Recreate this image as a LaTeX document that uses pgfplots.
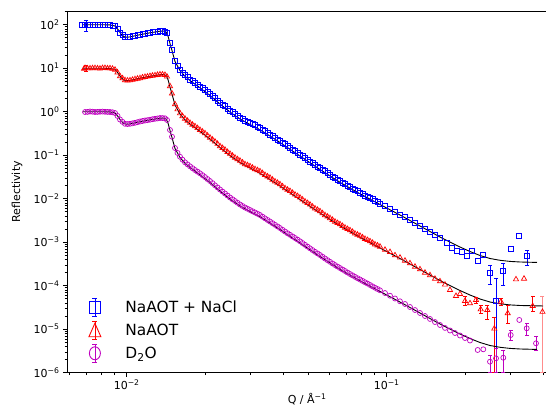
\documentclass[border=0pt]{standalone}
\usepackage{fontspec}
\setmainfont{DejaVu Sans}
\usepackage{pgfplots}
\pgfplotsset{compat=1.18}

\definecolor{mpblue}{rgb}{0,0,1}
\definecolor{mpred}{rgb}{1,0,0}
\definecolor{mpmag}{rgb}{0.75,0,0.75}

% reflectivity curves (offset x100, x10, x1)
\pgfplotstableread{
Q R
0.006733 97
0.006914 99.5
0.007227 100.5
0.007553 98
0.007894 101
0.008251 99
0.008624 98
0.009016 94
0.009424 66
0.009851 52.5
0.010297 53
0.010762 55
0.011249 59.5
0.011758 63
0.012290 65
0.012847 69
0.013428 71.5
0.014036 70
0.014289 64
0.014673 38
0.014935 26.5
0.015337 14.8
0.016032 9.2
0.016757 6.95
0.017516 5.5
0.018309 4.6
0.019138 3.82
0.020004 3.17
0.020910 2.53
0.021857 2.05
0.022846 1.61
0.023880 1.33
0.024962 1.06
0.026092 0.89
0.027273 0.73
0.028510 0.632
0.029801 0.545
0.031150 0.486
0.032560 0.419
0.034034 0.357
0.035575 0.297
0.037186 0.253
0.038871 0.210
0.040631 0.178
0.042470 0.147
0.044393 0.126
0.046403 0.104
0.048504 0.0878
0.050699 0.0718
0.052995 0.0607
0.055394 0.0503
0.057902 0.0426
0.060524 0.0351
0.063264 0.0301
0.066128 0.0252
0.069123 0.0220
0.072252 0.0184
0.075523 0.0161
0.078942 0.0137
0.082516 0.0119
0.086252 0.0102
0.090157 0.00895
0.094238 0.00772
0.098505 0.00678
0.10297 0.00581
0.10762 0.00508
0.11249 0.00432
0.11758 0.00382
0.12290 0.00320
0.12847 0.00275
0.13428 0.00233
0.14036 0.00201
0.14673 0.00169
0.15337 0.00146
0.16032 0.00123
0.17014 0.000944
0.17783 0.000724
0.18688 0.000628
0.19431 0.000605
0.20417 0.000482
0.21340 0.000628
0.22387 0.000370
0.23525 0.000508
0.24962 0.000199
0.2633 0.0000445
0.28085 0.000221
0.3007 0.000698
0.3228 0.00141
0.34737 0.000482
0.007069 99
0.007389 100
0.007722 99.5
0.008071 100.5
0.008436 98.5
0.008817 96.5
0.009218 80
0.009635 58.5
0.010071 52
0.010527 54
0.011003 57.5
0.011501 61
0.012021 64
0.012565 67
0.013135 70
0.013728 71.5
0.015680 11.3
0.016391 7.9
0.017132 6.2
0.017908 5.03
0.018719 4.19
0.019566 3.48
0.020452 2.83
0.021378 2.28
0.022346 1.82
0.023357 1.46
0.024414 1.185
0.025521 0.971
0.026676 0.807
0.027883 0.680
0.029148 0.588
0.030468 0.515
0.031847 0.451
0.033289 0.386
0.034796 0.325
0.036371 0.274
0.038018 0.231
0.039741 0.193
0.041540 0.161
0.043420 0.136
0.045386 0.115
0.047441 0.0956
0.049590 0.0794
0.051834 0.0660
0.054181 0.0553
0.056634 0.0463
0.059198 0.0387
0.061878 0.0325
0.064679 0.0276
0.067608 0.0236
0.070670 0.0201
0.073869 0.0173
0.077213 0.0149
0.080709 0.0129
0.084363 0.0112
0.088182 0.00967
0.092175 0.00840
}\nacldata

\pgfplotstableread{
Q R
0.006852 9.7
0.006914 10.1
0.007227 9.9
0.007553 10.05
0.007894 9.8
0.008251 10.1
0.008624 9.95
0.009016 9.2
0.009424 6.5
0.009851 5.3
0.010297 5.25
0.010762 5.6
0.011249 5.9
0.011758 6.3
0.012290 6.6
0.012847 6.85
0.013428 7.2
0.014036 7.0
0.014289 6.4
0.014673 3.85
0.014935 2.62
0.015337 1.48
0.016032 0.915
0.016757 0.69
0.017516 0.553
0.018309 0.462
0.019138 0.381
0.020004 0.318
0.020910 0.253
0.021857 0.205
0.022846 0.161
0.023880 0.133
0.024962 0.1075
0.026092 0.0878
0.027273 0.0745
0.028510 0.0621
0.029801 0.0556
0.031150 0.0478
0.032560 0.0426
0.034034 0.0351
0.035575 0.0302
0.037186 0.0249
0.038871 0.0214
0.040631 0.0174
0.042470 0.0150
0.044393 0.0124
0.046403 0.0106
0.048504 0.00862
0.050699 0.00731
0.052995 0.00596
0.055394 0.00513
0.057902 0.00418
0.060524 0.00357
0.063264 0.00296
0.066128 0.00258
0.069123 0.00216
0.072252 0.00188
0.075523 0.00158
0.078942 0.00140
0.082516 0.00119
0.086252 0.00105
0.090157 0.00089
0.094238 0.00079
0.098505 0.00067
0.10297 0.000595
0.10762 0.000500
0.11249 0.000442
0.11758 0.000376
0.12290 0.000327
0.12847 0.000273
0.13428 0.000238
0.14036 0.000199
0.14673 0.000174
0.15337 0.000144
0.16032 0.000126
0.16757 0.000106
0.17516 0.0000796
0.18471 0.0000580
0.19138 0.0000644
0.20004 0.0000445
0.20910 0.0000394
0.22051 0.0000469
0.22987 0.0000286
0.24374 0.0000276
0.25933 0.0000103
0.27516 0.0000428
0.29205 0.0000232
0.31429 0.000140
0.33742 0.000145
0.36438 0.0000341
0.39733 0.0000250
0.007069 9.9
0.007389 10.0
0.007722 9.9
0.008071 10.05
0.008436 9.9
0.008817 9.7
0.009218 8.0
0.009635 5.85
0.010071 5.2
0.010527 5.4
0.011003 5.75
0.011501 6.12
0.012021 6.4
0.012565 6.72
0.013135 7.0
0.013728 7.15
0.015680 1.13
0.016391 0.79
0.017132 0.617
0.017908 0.503
0.018719 0.419
0.019566 0.348
0.020452 0.283
0.021378 0.228
0.022346 0.182
0.023357 0.1464
0.024414 0.1185
0.025521 0.0971
0.026676 0.0807
0.027883 0.0680
0.029148 0.0588
0.030468 0.0515
0.031847 0.0451
0.033289 0.0386
0.034796 0.0325
0.036371 0.0274
0.038018 0.0231
0.039741 0.0193
0.041540 0.0161
0.043420 0.0136
0.045386 0.0115
0.047441 0.00956
0.049590 0.00794
0.051834 0.00660
0.054181 0.00553
0.056634 0.00463
0.059198 0.00387
0.061878 0.00325
0.064679 0.00276
0.067608 0.00236
0.070670 0.00201
0.073869 0.00173
0.077213 0.00149
0.080709 0.00129
0.084363 0.00112
0.088182 0.000967
0.092175 0.000840
}\naaotdata

\pgfplotstableread{
Q R
0.006914 0.984
0.007227 1.011
0.007553 0.984
0.007894 1.000
0.008251 0.995
0.008624 0.984
0.009016 0.933
0.009424 0.662
0.009851 0.527
0.010297 0.527
0.010762 0.556
0.011249 0.595
0.011758 0.628
0.012290 0.655
0.012847 0.687
0.013428 0.716
0.014036 0.705
0.014289 0.645
0.014673 0.380
0.014935 0.266
0.015337 0.1464
0.016032 0.0923
0.016757 0.0687
0.017516 0.0556
0.018309 0.0457
0.019138 0.0384
0.020004 0.0315
0.020910 0.0255
0.021857 0.0203
0.022846 0.01627
0.023880 0.01317
0.024962 0.01066
0.026092 0.00885
0.027273 0.00736
0.028510 0.00628
0.029801 0.00550
0.031150 0.00482
0.032560 0.00422
0.034034 0.00354
0.035575 0.00299
0.037186 0.00251
0.038871 0.00212
0.040631 0.00176
0.042470 0.00148
0.044393 0.00125
0.046403 0.00105
0.048504 0.000871
0.050699 0.000724
0.052995 0.000602
0.055394 0.000508
0.057902 0.000422
0.060524 0.000354
0.063264 0.000299
0.066128 0.000255
0.069123 0.000218
0.072252 0.000186
0.075523 0.000160
0.078942 0.000139
0.082516 0.000120
0.086252 0.000104
0.090157 0.0000899
0.094238 0.0000784
0.098505 0.0000679
0.10297 0.0000589
0.10762 0.0000508
0.11249 0.0000438
0.11758 0.0000380
0.12290 0.0000324
0.12847 0.0000276
0.13428 0.0000236
0.14036 0.0000201
0.14673 0.0000172
0.15337 0.0000146
0.16032 0.0000125
0.16757 0.0000107
0.17516 0.00000934
0.18309 0.00000818
0.19138 0.00000717
0.20004 0.00000628
0.20910 0.00000550
0.22387 0.00000333
0.23525 0.00000345
0.24962 0.00000179
0.2633 0.00000214
0.28085 0.00000221
0.29987 0.00000736
0.32359 0.0000163
0.34552 0.0000105
0.3752 0.00000474
0.007069 0.99
0.007389 1.0
0.007722 0.99
0.008071 1.005
0.008436 0.99
0.008817 0.97
0.009218 0.80
0.009635 0.585
0.010071 0.52
0.010527 0.54
0.011003 0.575
0.011501 0.612
0.012021 0.64
0.012565 0.672
0.013135 0.70
0.013728 0.715
0.015680 0.113
0.016391 0.079
0.017132 0.0617
0.017908 0.0503
0.018719 0.0419
0.019566 0.0348
0.020452 0.0283
0.021378 0.0228
0.022346 0.0182
0.023357 0.01464
0.024414 0.01185
0.025521 0.00971
0.026676 0.00807
0.027883 0.00680
0.029148 0.00588
0.030468 0.00515
0.031847 0.00451
0.033289 0.00386
0.034796 0.00325
0.036371 0.00274
0.038018 0.00231
0.039741 0.00193
0.041540 0.00161
0.043420 0.00136
0.045386 0.00115
0.047441 0.000956
0.049590 0.000794
0.051834 0.000660
0.054181 0.000553
0.056634 0.000463
0.059198 0.000387
0.061878 0.000325
0.064679 0.000276
0.067608 0.000236
0.070670 0.000201
0.073869 0.000173
0.077213 0.000149
0.080709 0.000129
0.084363 0.000112
0.088182 0.0000967
0.092175 0.0000840
}\dodata

% fitted model (same shape for the three, offsets x100 and x10)
\pgfplotstableread{
Q R
0.0068 1.0
0.007894 1.0
0.008624 0.9895
0.009016 0.933
0.009259 0.776
0.009508 0.611
0.009764 0.532
0.010027 0.516
0.010297 0.524
0.011249 0.589
0.012290 0.651
0.013428 0.709
0.013912 0.716
0.014163 0.680
0.014416 0.550
0.014673 0.370
0.014935 0.255
0.015337 0.1426
0.016032 0.0886
0.016757 0.0651
0.017516 0.0522
0.019138 0.0354
0.020910 0.0236
0.022846 0.01503
0.024962 0.00984
0.027273 0.00680
0.029801 0.00508
0.032560 0.00384
0.035575 0.00276
0.038871 0.00196
0.042470 0.001366
0.046403 0.000958
0.055394 0.000469
0.066128 0.000238
0.078942 0.0001296
0.094238 0.0000736
0.11249 0.0000422
0.13428 0.0000236
0.16032 0.00001317
0.19138 0.00000776
0.20910 0.00000611
0.22846 0.00000495
0.24962 0.00000422
0.27273 0.00000384
0.29801 0.00000362
0.32560 0.00000351
0.3785 0.00000343
}\dofit

\pgfplotstableread{
Q R
0.0068 100
0.007894 100
0.008624 98.95
0.009016 93.3
0.009259 77.6
0.009508 61.1
0.009764 53.2
0.010027 51.6
0.010297 52.4
0.011249 58.9
0.012290 65.1
0.013428 70.9
0.013912 71.6
0.014163 68.0
0.014416 55.0
0.014673 37.0
0.014935 25.5
0.015337 14.26
0.016032 8.86
0.016757 6.51
0.017516 5.22
0.019138 3.54
0.020910 2.36
0.022846 1.503
0.024962 0.984
0.027273 0.680
0.029801 0.508
0.032560 0.384
0.035575 0.276
0.038871 0.196
0.042470 0.1366
0.046403 0.0958
0.055394 0.0469
0.066128 0.0238
0.078942 0.01296
0.094238 0.00736
0.11249 0.00422
0.13428 0.00236
0.16032 0.001317
0.19138 0.000776
0.20910 0.000611
0.22846 0.000495
0.24962 0.000422
0.27273 0.000384
0.29801 0.000362
0.32560 0.000351
0.3785 0.000343
}\naclfit

\pgfplotstableread{
Q R
0.0068 10.0
0.007894 10.0
0.008624 9.895
0.009016 9.33
0.009259 7.76
0.009508 6.11
0.009764 5.32
0.010027 5.16
0.010297 5.24
0.011249 5.89
0.012290 6.51
0.013428 7.09
0.013912 7.16
0.014163 6.80
0.014416 5.50
0.014673 3.70
0.014935 2.55
0.015337 1.426
0.016032 0.886
0.016757 0.651
0.017516 0.522
0.019138 0.354
0.020910 0.236
0.022846 0.1503
0.024962 0.0984
0.027273 0.0680
0.029801 0.0508
0.032560 0.0384
0.035575 0.0276
0.038871 0.0196
0.042470 0.01366
0.046403 0.00958
0.055394 0.00469
0.066128 0.00238
0.078942 0.001296
0.094238 0.000736
0.11249 0.000422
0.13428 0.000236
0.16032 0.0001317
0.19138 0.0000776
0.20910 0.0000611
0.22846 0.0000495
0.24962 0.0000422
0.27273 0.0000384
0.29801 0.0000362
0.32560 0.0000351
0.3993 0.0000342
}\naaotfit

\begin{document}
\begin{tikzpicture}
\begin{axis}[
  scale only axis,
  width=480.4pt, height=361.7pt,
  xmode=log, ymode=log,
  xmin=0.005893, xmax=0.415,
  ymin=1e-6, ymax=206.5,
  xtick={0.01,0.1},
  xticklabels={10\textsuperscript{−2},10\textsuperscript{−1}},
  ytick={1e-6,1e-5,1e-4,1e-3,1e-2,1e-1,1,10,100},
  yticklabels={10\textsuperscript{−6},10\textsuperscript{−5},10\textsuperscript{−4},10\textsuperscript{−3},10\textsuperscript{−2},10\textsuperscript{−1},10\textsuperscript{0},10\textsuperscript{1},10\textsuperscript{2}},
  minor xtick={0.006,0.007,0.008,0.009,0.02,0.03,0.04,0.05,0.06,0.07,0.08,0.09,0.2,0.3,0.4},
  minor ytick={2e-6,3e-6,4e-6,5e-6,6e-6,7e-6,8e-6,9e-6,
    2e-5,3e-5,4e-5,5e-5,6e-5,7e-5,8e-5,9e-5,
    2e-4,3e-4,4e-4,5e-4,6e-4,7e-4,8e-4,9e-4,
    2e-3,3e-3,4e-3,5e-3,6e-3,7e-3,8e-3,9e-3,
    0.02,0.03,0.04,0.05,0.06,0.07,0.08,0.09,
    0.2,0.3,0.4,0.5,0.6,0.7,0.8,0.9,
    2,3,4,5,6,7,8,9,20,30,40,50,60,70,80,90,200},
  tick align=outside,
  tick pos=left,
  major tick length=4pt,
  minor tick length=2.3pt,
  every tick/.append style={black, line width=0.7pt},
  axis line style={line width=0.8pt},
  tick label style={font=\fontsize{11}{13}\selectfont},
  label style={font=\fontsize{11}{13}\selectfont},
  xlabel={Q / Å\textsuperscript{−1}},
  ylabel={Reflectivity},
  xlabel style={at={(axis description cs:0.5,-0.048)}, anchor=north},
  ylabel style={at={(axis description cs:-0.1041,0.5)}, anchor=center},
  legend cell align=left,
  legend style={at={(axis description cs:0.040,0.028)}, anchor=south west,
    draw=none, fill=none, inner sep=0pt, row sep=4.8pt,
    font=\fontsize{15.4}{18}\selectfont,
    nodes={inner sep=2pt, text height=11.2pt, text depth=0pt}},
]

% legend handles: marker with its error bar (plain lengths only)
\addlegendimage{legend image code/.code={
  \draw[mpblue, line width=0.8pt] (8.5pt,-8.7pt) -- (8.5pt,8.7pt)
    (6pt,-8.7pt) -- (11pt,-8.7pt) (6pt,8.7pt) -- (11pt,8.7pt);
  \draw[mpblue, line width=0.9pt] (3pt,-6.3pt) rectangle (14pt,6.3pt);
  \path[draw=none] (0pt,0pt) -- (37pt,0pt);}}
\addlegendentry{NaAOT + NaCl}
\addlegendimage{legend image code/.code={
  \draw[mpred, line width=0.8pt] (8.5pt,-8.7pt) -- (8.5pt,8.7pt)
    (6pt,-8.7pt) -- (11pt,-8.7pt) (6pt,8.7pt) -- (11pt,8.7pt);
  \draw[mpred, line width=0.9pt] (8.5pt,7pt) -- (2.5pt,-6.5pt) -- (14.5pt,-6.5pt) -- cycle;
  \path[draw=none] (0pt,0pt) -- (37pt,0pt);}}
\addlegendentry{NaAOT}
\addlegendimage{legend image code/.code={
  \draw[mpmag, line width=0.8pt] (8.5pt,-8.7pt) -- (8.5pt,8.7pt)
    (6pt,-8.7pt) -- (11pt,-8.7pt) (6pt,8.7pt) -- (11pt,8.7pt);
  \draw[mpmag, line width=0.9pt] (8.5pt,0pt) ellipse (5.5pt and 6.5pt);
  \path[draw=none] (0pt,0pt) -- (37pt,0pt);}}
\addlegendentry{D\textsubscript{2}O}

% error bars of the noisy high-Q points
\addplot[mpblue, line width=0.8pt, mark=-, mark size=2pt, unbounded coords=jump, forget plot]
  coordinates {(0.006975,69) (0.006975,124) (0.006975,nan)
  (0.24962,1.09e-4) (0.24962,2.99e-4) (0.24962,nan)
  (0.2633,1e-6) (0.2633,1.48e-4) (0.2633,nan)
  (0.28085,1.02e-4) (0.28085,3.27e-4) (0.28085,nan)
  (0.34737,2.99e-4) (0.34737,6.62e-4)};
\addplot[mpred, line width=0.8pt, mark=-, mark size=2pt, unbounded coords=jump, forget plot]
  coordinates {(0.006975,8.31) (0.006975,11.85) (0.006975,nan)
  (0.20004,3.6e-5) (0.20004,5.58e-5) (0.20004,nan)
  (0.22051,4.0e-5) (0.22051,5.5e-5) (0.22051,nan)
  (0.22987,2.3e-5) (0.22987,3.6e-5) (0.22987,nan)
  (0.24374,1.67e-5) (0.24374,3.6e-5) (0.24374,nan)
  (0.25933,1e-6) (0.25933,1.9e-5) (0.25933,nan)
  (0.27516,3.6e-5) (0.27516,5.0e-5) (0.27516,nan)
  (0.29205,1.37e-5) (0.29205,3.6e-5) (0.29205,nan)
  (0.36438,2.58e-5) (0.36438,5.58e-5)};
\addplot[mpred!45, line width=1pt, mark=-, mark size=2pt, forget plot]
  coordinates {(0.39733,1e-6) (0.39733,5.58e-5)};
\addplot[mpmag, line width=0.8pt, mark=-, mark size=2pt, unbounded coords=jump, forget plot]
  coordinates {(0.24962,1e-6) (0.24962,2.55e-6) (0.24962,nan)
  (0.2633,1e-6) (0.2633,3.64e-6) (0.2633,nan)
  (0.28085,1e-6) (0.28085,3.33e-6) (0.28085,nan)
  (0.29987,5.6e-6) (0.29987,9.6e-6) (0.29987,nan)
  (0.34552,7.36e-6) (0.34552,1.37e-5) (0.34552,nan)
  (0.3752,3.33e-6) (0.3752,6.73e-6)};

% data
\addplot[only marks, mark=square, mark size=2.5pt, mark options={draw=mpblue, fill=none, line width=0.7pt}, forget plot]
  table[x=Q, y=R] {\nacldata};
\addplot[only marks, mark=triangle, mark size=3pt, mark options={draw=mpred, fill=none, line width=0.7pt}, forget plot]
  table[x=Q, y=R] {\naaotdata};
\addplot[only marks, mark=o, mark size=2.5pt, mark options={draw=mpmag, fill=none, line width=0.7pt}, forget plot]
  table[x=Q, y=R] {\dodata};

% fits
\addplot[black, line width=0.9pt, no marks, forget plot] table[x=Q, y=R] {\naclfit};
\addplot[black, line width=0.9pt, no marks, forget plot] table[x=Q, y=R] {\naaotfit};
\addplot[black, line width=0.9pt, no marks, forget plot] table[x=Q, y=R] {\dofit};
\end{axis}
\pgfresetboundingbox
\path[use as bounding box] (-67pt,-32.3pt) rectangle (479pt,372.7pt);
\end{tikzpicture}
\end{document}
